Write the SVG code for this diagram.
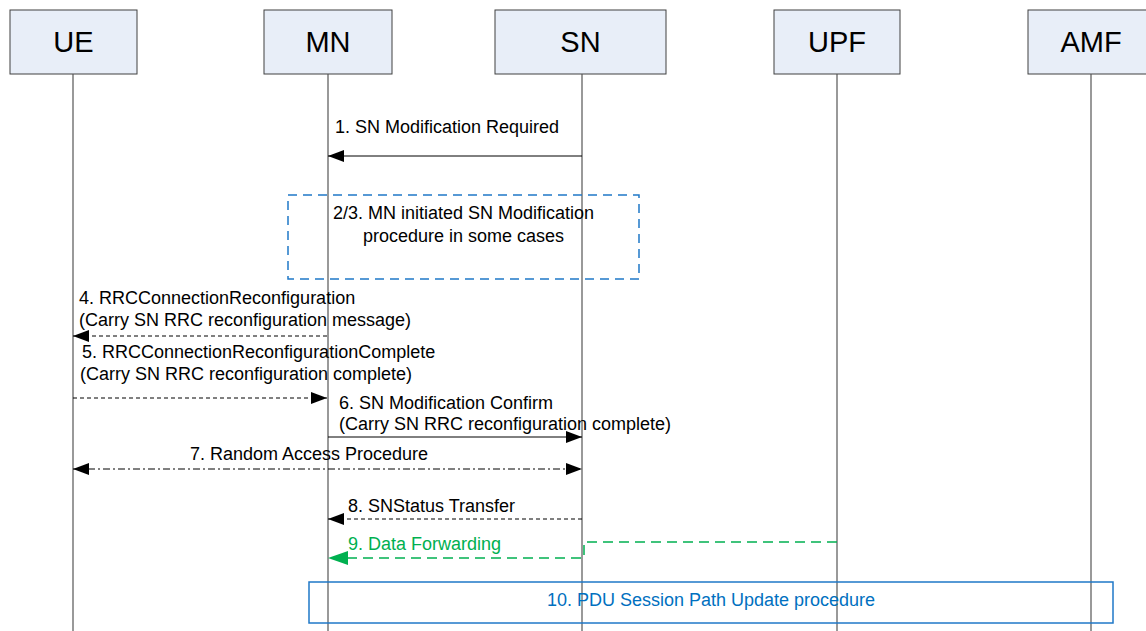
<svg xmlns="http://www.w3.org/2000/svg" width="1146" height="631" viewBox="0 0 1146 631">
<defs>
<style>
.box{fill:#E8EEF8;stroke:#404040;stroke-width:1}
.name{font-family:"Liberation Sans",Arial,sans-serif;font-size:29px;fill:#000;text-anchor:middle}
.life{stroke:#555;stroke-width:1.2}
.lbl{font-family:"Liberation Sans",Arial,sans-serif;font-size:18px;fill:#000}
.msg{stroke:#000;stroke-width:1;fill:none}
.dash{stroke-dasharray:4,3}
.dashdot{stroke-dasharray:7,3,2,3}
</style>
<marker id="ah" viewBox="0 0 16 12" refX="16" refY="6" markerWidth="16" markerHeight="12" markerUnits="userSpaceOnUse" orient="auto">
<path d="M0,0 L16,6 L0,12 Z" fill="#000"/>
</marker>
<marker id="ahs" viewBox="0 0 16 12" refX="0" refY="6" markerWidth="16" markerHeight="12" markerUnits="userSpaceOnUse" orient="auto">
<path d="M16,0 L0,6 L16,12 Z" fill="#000"/>
</marker>
<marker id="ahg" viewBox="0 0 20 14" refX="20" refY="7" markerWidth="20" markerHeight="14" markerUnits="userSpaceOnUse" orient="auto">
<path d="M0,0 L20,7 L0,14 Z" fill="#00B050"/>
</marker>
</defs>
<rect width="1146" height="631" fill="#fff"/>
<g id="UE"><rect class="box" x="10" y="10" width="127" height="64"/><text class="name" x="73.5" y="52">UE</text><line class="life" x1="73" y1="74" x2="73" y2="631"/></g>
<g id="MN"><rect class="box" x="264" y="10" width="128" height="64"/><text class="name" x="328" y="52">MN</text><line class="life" x1="328" y1="74" x2="328" y2="631"/></g>
<g id="SN"><rect class="box" x="495" y="10" width="171" height="64"/><text class="name" x="580.5" y="52">SN</text><line class="life" x1="582" y1="74" x2="582" y2="631"/></g>
<g id="UPF"><rect class="box" x="774" y="10" width="126" height="64"/><text class="name" x="837" y="52">UPF</text><line class="life" x1="837" y1="74" x2="837" y2="631"/></g>
<g id="AMF"><rect class="box" x="1028" y="10" width="130" height="64"/><text class="name" x="1091" y="52">AMF</text><line class="life" x1="1091" y1="74" x2="1091" y2="631"/></g>
<g id="step23"><rect x="288" y="195" width="351" height="84" fill="none" stroke="#1F78C8" stroke-width="1.5" stroke-dasharray="9,6"/>
<text class="lbl" x="333" y="219">2/3. MN initiated SN Modification</text><text class="lbl" x="363" y="242">procedure in some cases</text></g>
<g id="step10"><rect x="309" y="582" width="804" height="41" fill="none" stroke="#1F78C8" stroke-width="1.5"/>
<text class="lbl" x="711" y="606" text-anchor="middle" style="fill:#0070C0">10. PDU Session Path Update procedure</text></g>
<g id="connectors">
<line class="msg" x1="582" y1="156" x2="328" y2="156" marker-end="url(#ah)"/>
<text class="lbl" x="335" y="133">1. SN Modification Required</text>
<line class="msg dash" x1="327" y1="336" x2="73" y2="336" marker-end="url(#ah)"/>
<text class="lbl" x="79" y="304">4. RRCConnectionReconfiguration</text>
<text class="lbl" x="79" y="326">(Carry SN RRC reconfiguration message)</text>
<line class="msg dash" x1="73" y1="398" x2="327" y2="398" marker-end="url(#ah)"/>
<text class="lbl" x="82" y="358">5. RRCConnectionReconfigurationComplete</text>
<text class="lbl" x="80" y="380">(Carry SN RRC reconfiguration complete)</text>
<line class="msg" x1="328" y1="437" x2="582" y2="437" marker-end="url(#ah)"/>
<text class="lbl" x="339" y="409">6. SN Modification Confirm</text>
<text class="lbl" x="339" y="430">(Carry SN RRC reconfiguration complete)</text>
<line class="msg dashdot" x1="73" y1="469" x2="582" y2="469" marker-start="url(#ahs)" marker-end="url(#ah)"/>
<text class="lbl" x="190" y="460">7. Random Access Procedure</text>
<line class="msg dash" x1="582" y1="519" x2="328" y2="519" marker-end="url(#ah)"/>
<text class="lbl" x="348" y="512">8. SNStatus Transfer</text>
<polyline points="837,542 584,542 584,558 328,558" fill="none" stroke="#00B050" stroke-width="1.5" stroke-dasharray="10,6" marker-end="url(#ahg)"/>
<text class="lbl" x="348" y="550" style="fill:#00B050">9. Data Forwarding</text>
</g>
</svg>
